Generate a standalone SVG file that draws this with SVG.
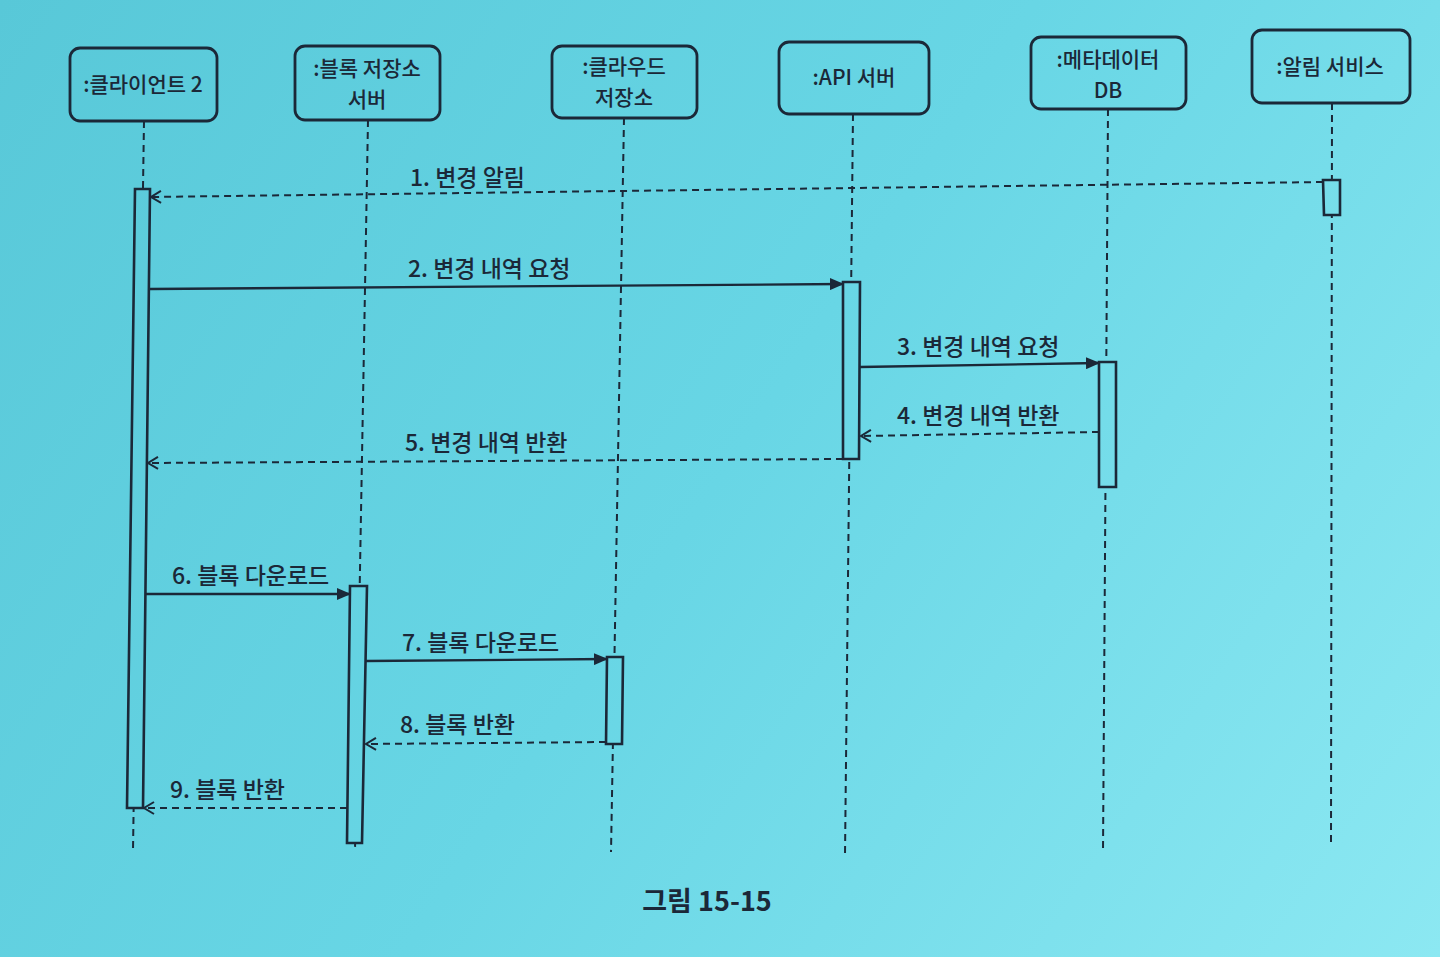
<svg xmlns="http://www.w3.org/2000/svg" width="1440" height="957" viewBox="0 0 1440 957">
<defs>
<linearGradient id="bg" gradientUnits="userSpaceOnUse" x1="0" y1="0" x2="1440" y2="957">
<stop offset="0" stop-color="#58c8d8"/>
<stop offset="0.5" stop-color="#68d6e5"/>
<stop offset="1" stop-color="#8ce8f2"/>
</linearGradient>
<marker id="solid" markerUnits="userSpaceOnUse" markerWidth="14" markerHeight="12" refX="13" refY="6" orient="auto">
<path d="M0,0 L14,6 L0,12 z" fill="#1b2838"/>
</marker>
<marker id="open" markerUnits="userSpaceOnUse" markerWidth="14" markerHeight="14" refX="11" refY="7" orient="auto">
<path d="M1,1 L11,7 L1,13" fill="none" stroke="#1b2838" stroke-width="2"/>
</marker>
</defs>
<style>
.box{fill:none;stroke:#1b2838;stroke-width:2.8}
.t{font-family:"Noto Sans CJK KR","Noto Sans",sans-serif;font-size:23px;font-weight:500;fill:#1b2838}
.n{font-size:21px}
.c{text-anchor:middle}
.life{stroke:#1b2838;stroke-width:2;stroke-dasharray:7 5;fill:none}
.act{fill:url(#bg);stroke:#1b2838;stroke-width:2.6}
.msg{stroke:#1b2838;stroke-width:2.3;fill:none;marker-end:url(#solid)}
.ret{stroke:#1b2838;stroke-width:2;stroke-dasharray:7 5;fill:none;marker-end:url(#open)}
</style>
<rect width="1440" height="957" fill="url(#bg)"/>
<g id="lifelines">
<line class="life" x1="144" y1="121" x2="133" y2="850"/>
<line class="life" x1="368" y1="120" x2="355" y2="850"/>
<line class="life" x1="624" y1="118" x2="611" y2="852"/>
<line class="life" x1="853" y1="114" x2="845" y2="855"/>
<line class="life" x1="1108" y1="109" x2="1103" y2="852"/>
<line class="life" x1="1332" y1="103" x2="1331" y2="845"/>
</g>
<g id="node-client">
<rect class="box" x="70" y="48" width="147" height="73" rx="10"/>
<text class="t n c" x="143" y="92">:클라이언트 2</text>
<polygon class="act" points="135,189 150,189 143,808 127,808"/>
</g>
<g id="node-block">
<rect class="box" x="295" y="46" width="145" height="74" rx="10"/>
<text class="t n c" x="367" y="76">:블록 저장소</text>
<text class="t n c" x="367" y="107">서버</text>
<polygon class="act" points="350,586 367,586 362,843 347,843"/>
</g>
<g id="node-cloud">
<rect class="box" x="552" y="46" width="145" height="72" rx="10"/>
<text class="t n c" x="624" y="74">:클라우드</text>
<text class="t n c" x="624" y="105">저장소</text>
<polygon class="act" points="607,657 623,657 622,744 606,744"/>
</g>
<g id="node-api">
<rect class="box" x="779" y="42" width="150" height="72" rx="10"/>
<text class="t n c" x="854" y="85">:API 서버</text>
<polygon class="act" points="843,282 860,282 859,459 843,459"/>
</g>
<g id="node-meta">
<rect class="box" x="1031" y="37" width="155" height="72" rx="10"/>
<text class="t n c" x="1108" y="67">:메타데이터</text>
<text class="t n c" x="1108" y="98">DB</text>
<polygon class="act" points="1099,362 1116,362 1116,487 1099,487"/>
</g>
<g id="node-alert">
<rect class="box" x="1252" y="30" width="158" height="73" rx="10"/>
<text class="t n c" x="1330" y="74">:알림 서비스</text>
<polygon class="act" points="1323,180 1340,180 1340,215 1324,215"/>
</g>
<g id="connectors">
<line class="ret" x1="1323" y1="182" x2="151" y2="197"/>
<line class="msg" x1="150" y1="289" x2="843" y2="284"/>
<line class="msg" x1="860" y1="367" x2="1099" y2="363"/>
<line class="ret" x1="1099" y1="432" x2="861" y2="436"/>
<line class="ret" x1="843" y1="459" x2="148" y2="463"/>
<line class="msg" x1="146" y1="594" x2="350" y2="594"/>
<line class="msg" x1="366" y1="661" x2="607" y2="659"/>
<line class="ret" x1="606" y1="742" x2="366" y2="744"/>
<line class="ret" x1="347" y1="808" x2="144" y2="808"/>
</g>
<g id="labels">
<text class="t" x="410" y="186">1. 변경 알림</text>
<text class="t" x="408" y="277">2. 변경 내역 요청</text>
<text class="t" x="897" y="355">3. 변경 내역 요청</text>
<text class="t" x="897" y="424">4. 변경 내역 반환</text>
<text class="t" x="405" y="451">5. 변경 내역 반환</text>
<text class="t" x="172" y="584">6. 블록 다운로드</text>
<text class="t" x="402" y="651">7. 블록 다운로드</text>
<text class="t" x="400" y="733">8. 블록 반환</text>
<text class="t" x="170" y="798">9. 블록 반환</text>
<text class="t c" x="707" y="911" style="font-size:27px;font-weight:bold">그림 15-15</text>
</g>
</svg>
